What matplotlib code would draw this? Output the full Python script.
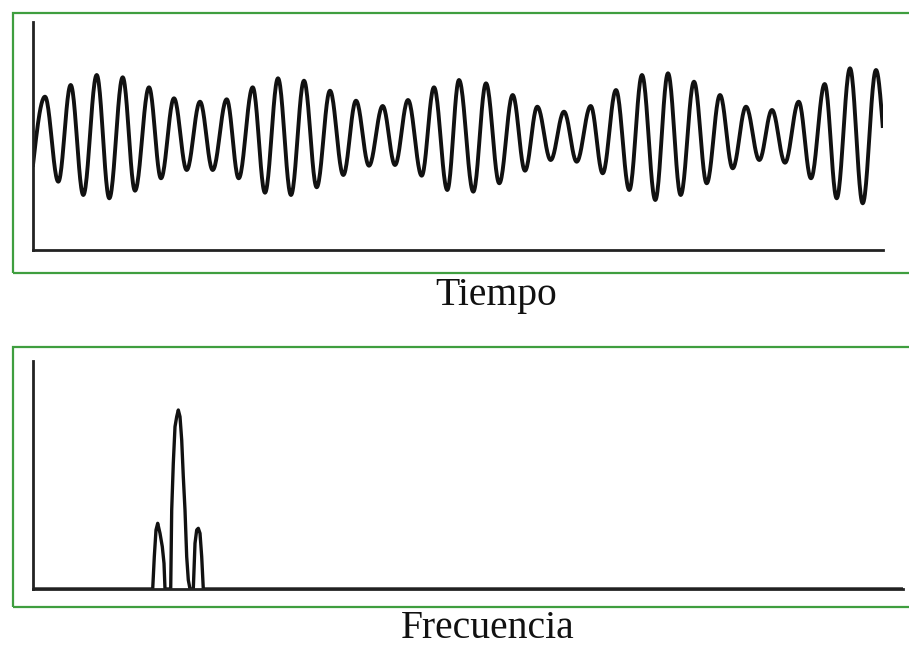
import numpy as np
import matplotlib
matplotlib.use("Agg")
import matplotlib.pyplot as plt
from matplotlib.patches import Rectangle

# ---- Data (arbitrary units) ----
# Time signal: successive extrema (start point, peaks/troughs alternating, end point)
time_ext = [0, 12, 25.3, 37.7, 50.3, 63.7, 76.3, 89.7, 102, 116, 128, 141, 153.7, 167,
            179.7, 193.7, 205.7, 219.7, 232, 245, 258, 271, 283.7, 297, 310.3, 323, 336,
            349.7, 362, 375, 388.7, 401, 414.3, 426, 440.3, 453, 466.3, 479.7, 492, 504.3,
            517.7, 531, 543.7, 557.7, 569.7, 583, 596.3, 609, 622.3, 635, 647.7, 661,
            673.7, 687, 699.7, 713, 726.3, 739, 752, 765.7, 778, 791.7, 803.7, 817, 829.7,
            843, 849.7]
amp_ext = [85, 153.3, 68.3, 165, 55, 175, 51.7, 172.7, 59.3, 162.7, 71.7, 151.7, 80, 148.3,
           80, 150.7, 71.7, 162.7, 57.3, 171.7, 55, 169.3, 62.7, 159.3, 75, 149.3, 84.3, 144,
           85, 150, 74.3, 162.7, 60, 170, 58.3, 166.7, 66.7, 155, 79.3, 143.3, 90, 138.3,
           88.3, 144, 76.7, 160, 60, 175, 50, 176.7, 55, 168.3, 66.7, 155, 81.7, 143.3, 90,
           140, 87.3, 148.3, 71.7, 166, 51.7, 181.7, 46.7, 180, 124]

# Spectrum: points of the drawn trace
freq = [0, 119.7, 121.3, 123, 124.7, 127, 129.3, 131, 132, 137.7, 138.7, 140.3, 142, 143.7,
        145.3, 147, 148.7, 150.3, 152, 153.7, 155.3, 157, 160.3, 162, 163.7, 165.3, 167,
        168.7, 170.3, 870]
mag = [0, 0, 32.3, 59, 65.7, 55.7, 42.3, 25.7, 0, 0, 79, 125.7, 162.3, 172.3, 179, 172.3,
       149, 112.3, 79, 32.3, 9, 0, 0, 45.7, 59, 60.7, 55.7, 32.3, 0, 0]

label_time = "Tiempo"
label_freq = "Frecuencia"

# ---- Smooth rendering of the waveform through the read extrema ----
tt, aa = [], []
n = len(time_ext)
for i in range(n - 1):
    t0, t1 = time_ext[i], time_ext[i + 1]
    a0, a1 = amp_ext[i], amp_ext[i + 1]
    s = np.linspace(0, 1, 25)
    if i == 0:
        w = np.sin(np.pi / 2 * s)
    elif i == n - 2:
        w = 1 - np.cos(np.pi / 2 * s)
    else:
        w = (1 - np.cos(np.pi * s)) / 2
    tt.append(t0 + (t1 - t0) * s)
    aa.append(a0 + (a1 - a0) * w)
tt = np.concatenate(tt)
aa = np.concatenate(aa)

W, H = 909, 646
fig = plt.figure(figsize=(W / 100, H / 100), dpi=100)
fig.patch.set_facecolor("white")

def fx(px):
    return px / W

def fy(py):
    return 1 - py / H

green = "#3f9e3f"
# Panel frames
for (top, bot) in [(13, 273), (347, 607)]:
    fig.patches.append(Rectangle((fx(13), fy(bot)), fx(1000 - 13), fy(top) - fy(bot),
                                 transform=fig.transFigure, fill=False,
                                 edgecolor=green, linewidth=1.6, zorder=0))

# Top axes (time)
ax1 = fig.add_axes([fx(33), fy(250), fx(883 - 33), fy(22) - fy(250)])
ax1.plot(tt, aa, color="#111111", linewidth=2.8, solid_joinstyle="round")
ax1.set_xlim(0, 850)
ax1.set_ylim(0, 228)

# Bottom axes (frequency)
ax2 = fig.add_axes([fx(33), fy(589), fx(903 - 33), fy(361) - fy(589)])
ax2.plot(freq, mag, color="#111111", linewidth=2.4)
ax2.set_xlim(0, 870)
ax2.set_ylim(0, 228)

for ax in (ax1, ax2):
    ax.set_facecolor("none")
    for sp in ("top", "right"):
        ax.spines[sp].set_visible(False)
    for sp in ("left", "bottom"):
        ax.spines[sp].set_color("#222222")
        ax.spines[sp].set_linewidth(2.0)
    ax.set_xticks([])
    ax.set_yticks([])

fig.text(fx(496), fy(305), label_time, ha="center", va="baseline",
         family="Liberation Serif", fontsize=28.5, color="#111111")
fig.text(fx(488), fy(638), label_freq, ha="center", va="baseline",
         family="Liberation Serif", fontsize=28.5, color="#111111")

fig.savefig("out.png", dpi=100, facecolor="white")
